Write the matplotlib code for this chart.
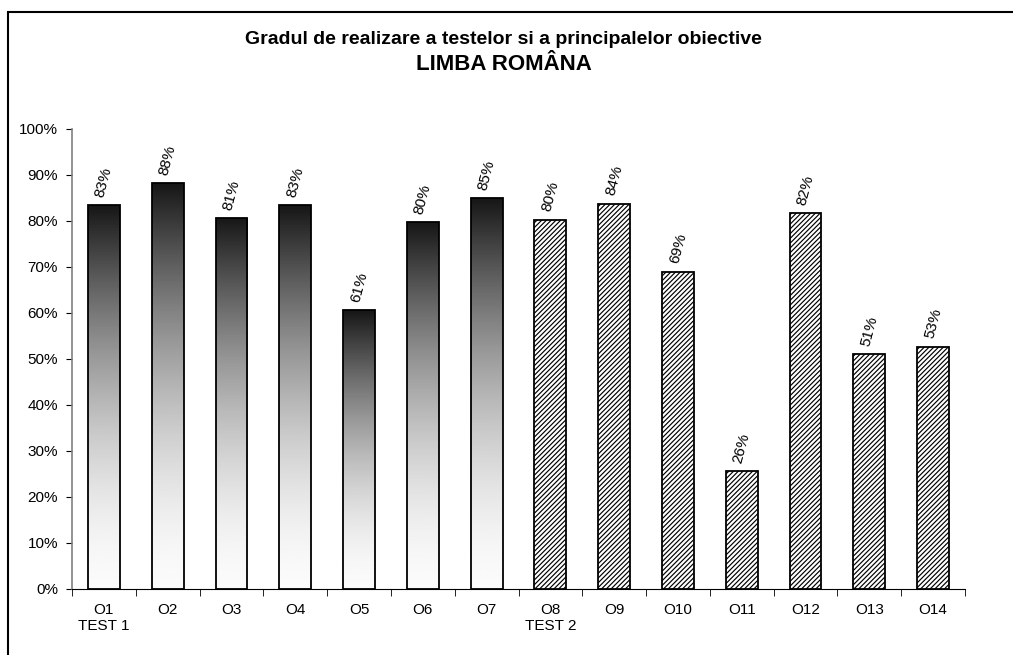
import numpy as np
import matplotlib
matplotlib.use("Agg")
import matplotlib.pyplot as plt
from matplotlib.patches import Rectangle

plt.rcParams['font.family'] = ['Liberation Sans', 'DejaVu Sans']
plt.rcParams['hatch.linewidth'] = 0.85

categories = ["O1", "O2", "O3", "O4", "O5", "O6", "O7",
              "O8", "O9", "O10", "O11", "O12", "O13", "O14"]
test_labels = ["TEST 1", "", "", "", "", "", "", "TEST 2", "", "", "", "", "", ""]
values = [83.4, 88.2, 80.7, 83.4, 60.6, 79.7, 84.9,
          80.3, 83.8, 69.0, 25.6, 81.8, 51.0, 52.7]
n_test1 = 7


def draw_chart():
    fig = plt.figure(figsize=(10.13, 6.55), dpi=100)
    ax = fig.add_axes([72 / 1013, 1 - 589 / 655, 893 / 1013, 460 / 655])

    x = np.arange(len(categories))
    width = 0.5

    # gradient for test 1 bars (black top -> white bottom)
    grad = np.linspace(0, 1, 256).reshape(-1, 1) ** 1.7
    for i in range(n_test1):
        v = values[i]
        im = ax.imshow(grad, cmap='gray_r', vmin=-0.02, vmax=1.1, aspect='auto',
                       extent=(x[i] - width / 2, x[i] + width / 2, 0, v),
                       origin='lower', zorder=2)
        r = Rectangle((x[i] - width / 2, 0), width, v, fill=False,
                      edgecolor='black', linewidth=1.3, zorder=3)
        ax.add_patch(r)
        im.set_clip_path(r)

    # hatched bars for test 2
    ax.bar(x[n_test1:], values[n_test1:], width=width, color='white',
           edgecolor='black', hatch='///////', linewidth=1.3, zorder=3)

    for i, v in enumerate(values):
        ax.text(x[i], v + 1.4, f"{round(v):.0f}%", rotation=75,
                ha='center', va='bottom', fontsize=11, zorder=4)

    ax.set_xlim(-0.5, len(categories) - 0.5)
    ax.set_ylim(0, 100)
    ax.set_yticks(np.arange(0, 101, 10))
    ax.set_yticklabels([f"{t}%" for t in range(0, 101, 10)], fontsize=11)

    ax.set_xticks(x)
    ax.set_xticklabels([c + ("\n" + t if t else "") for c, t in zip(categories, test_labels)],
                       fontsize=11, va='top')
    for lbl in ax.get_xticklabels():
        lbl.set_multialignment('center')
    ax.tick_params(axis='x', length=0, pad=10)
    ax.set_xticks(np.arange(-0.5, len(categories), 1), minor=True)
    ax.tick_params(axis='x', which='minor', length=5, direction='out', color='black')
    ax.tick_params(axis='y', length=4, direction='out', color='black', pad=6)

    for s in ['top', 'right']:
        ax.spines[s].set_visible(False)
    ax.spines['left'].set_color('#808080')
    ax.spines['left'].set_linewidth(1.2)
    ax.spines['bottom'].set_color('black')

    fig.text(503 / 1013, 1 - 40 / 655, "Gradul de realizare a testelor si a principalelor obiective",
             ha='center', va='center', fontsize=14, fontweight='bold')
    fig.text(504 / 1013, 1 - 64 / 655, "LIMBA ROMÂNA",
             ha='center', va='center', fontsize=16, fontweight='bold')

    # outer chart frame
    frame = Rectangle((8 / 1013, -0.1), 1.2, 1 - 12 / 655 + 0.1,
                      transform=fig.transFigure, fill=False,
                      edgecolor='black', linewidth=1.5)
    fig.patches.append(frame)

    fig.savefig("out.png", dpi=100)


if __name__ == "__main__":
    draw_chart()
